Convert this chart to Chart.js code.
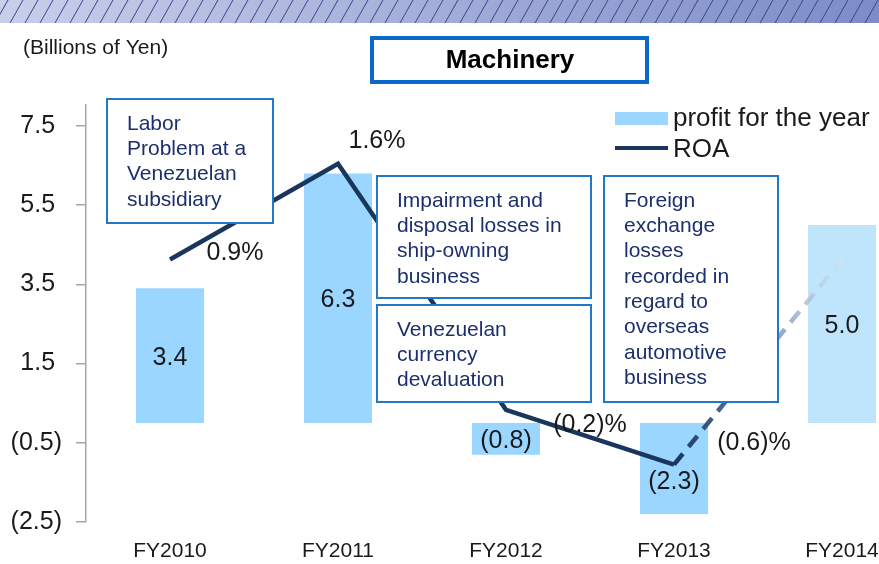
<!DOCTYPE html>
<html>
<head>
<meta charset="utf-8">
<script src="https://cdn.jsdelivr.net/npm/chart.js@4.4.1/dist/chart.umd.min.js"></script>
<style>
  html, body { margin: 0; padding: 0; overflow: hidden; background: #fff; }
</style>
</head>
<body>
<canvas id="machineryChart" width="930" height="564"></canvas>
<script>
// chart values
const years = ["FY2010", "FY2011", "FY2012", "FY2013", "FY2014"];
const profit = [3.4, 6.3, -0.8, -2.3, 5.0];
const profitLabels = ["3.4", "6.3", "(0.8)", "(2.3)", "5.0"];
const roa = [0.9, 1.6, -0.2, -0.6, 0.9];
const roaLabels = ["0.9%", "1.6%", "(0.2)%", "(0.6)%", ""];
const yTicks = [-2.5, -0.5, 1.5, 3.5, 5.5, 7.5];
const notes = [
  ["Labor", "Problem at a", "Venezuelan", "subsidiary"],
  ["Impairment and", "disposal losses in", "ship-owning", "business"],
  ["Venezuelan", "currency", "devaluation"],
  ["Foreign", "exchange", "losses", "recorded in", "regard to", "overseas", "automotive", "business"]
];

const FONT = "'Liberation Sans', Arial, sans-serif";
const NAVY = "#1b365d";
const BAR = "#9ad6ff";
const BAR_LIGHT = "#bfe5fc";

// layout of the note boxes (pixels)
const noteBoxes = [
  { x: 107, y: 99, w: 166, h: 124 },
  { x: 377, y: 176, w: 214, h: 122 },
  { x: 377, y: 305, w: 214, h: 97 },
  { x: 604, y: 176, w: 174, h: 226 }
];
const roaLabelOffsets = [[65, -6], [39, -23], [84, 15], [80, -21]];

Chart.defaults.font.family = FONT;

const fmtTick = (v) => v < 0 ? `(${Math.abs(v).toFixed(1)})` : v.toFixed(1) + " ";

const fadeGradient = (chart, p0, p1) => {
  const g = chart.ctx.createLinearGradient(p0.x, p0.y, p1.x, p1.y);
  g.addColorStop(0, NAVY);
  g.addColorStop(0.45, "#5d7fae");
  g.addColorStop(1, "rgba(214,226,240,0.7)");
  return g;
};

const decorPlugin = {
  id: "decor",
  beforeDraw(chart) {
    const ctx = chart.ctx;
    ctx.save();
    // hatched band at the top
    const band = ctx.createLinearGradient(0, 0, 879, 0);
    band.addColorStop(0, "#c9cee9");
    band.addColorStop(1, "#7d8cc7");
    ctx.fillStyle = band;
    ctx.fillRect(0, 0, chart.width, 23);
    ctx.beginPath();
    ctx.rect(0, 0, chart.width, 23);
    ctx.clip();
    ctx.strokeStyle = "#34478f";
    ctx.lineWidth = 1;
    for (let x = -20; x < chart.width + 20; x += 15) {
      ctx.beginPath();
      ctx.moveTo(x, 23);
      ctx.lineTo(x + 13, 0);
      ctx.stroke();
    }
    ctx.restore();

    ctx.save();
    ctx.fillStyle = "#1a1a1a";
    ctx.font = `21px ${FONT}`;
    ctx.textBaseline = "middle";
    ctx.fillText("(Billions of Yen)", 23, 48);

    // title box
    ctx.strokeStyle = "#0a68c8";
    ctx.lineWidth = 4;
    ctx.strokeRect(372, 38, 275, 44);
    ctx.fillStyle = "#000";
    ctx.font = `bold 26px ${FONT}`;
    ctx.textAlign = "center";
    ctx.fillText("Machinery", 510, 61);
    ctx.restore();
  },
  afterDatasetsDraw(chart) {
    const ctx = chart.ctx;
    ctx.save();

    // note boxes over the line
    noteBoxes.forEach((b, i) => {
      ctx.fillStyle = "#fff";
      ctx.fillRect(b.x, b.y, b.w, b.h);
      ctx.strokeStyle = "#2378c6";
      ctx.lineWidth = 2;
      ctx.strokeRect(b.x, b.y, b.w, b.h);
      ctx.fillStyle = "#1c2f6e";
      ctx.font = `21px ${FONT}`;
      ctx.textBaseline = "middle";
      ctx.textAlign = "left";
      notes[i].forEach((line, j) => {
        ctx.fillText(line, b.x + 20, b.y + 25 + j * 25.3);
      });
    });

    // bar values
    ctx.fillStyle = "#1a1a1a";
    ctx.font = `25px ${FONT}`;
    ctx.textAlign = "center";
    ctx.textBaseline = "middle";
    chart.getDatasetMeta(1).data.forEach((bar, i) => {
      let y = (bar.y + bar.base) / 2 + 2;
      if (i === 3) y += 12;
      ctx.fillText(profitLabels[i], bar.x, y);
    });

    // ROA values
    chart.getDatasetMeta(0).data.forEach((pt, i) => {
      if (!roaLabels[i]) return;
      const [dx, dy] = roaLabelOffsets[i];
      ctx.fillText(roaLabels[i], pt.x + dx, pt.y + dy);
    });

    // legend
    ctx.fillStyle = BAR;
    ctx.fillRect(615, 112, 53, 13);
    ctx.strokeStyle = NAVY;
    ctx.lineWidth = 4;
    ctx.beginPath();
    ctx.moveTo(615, 148);
    ctx.lineTo(668, 148);
    ctx.stroke();
    ctx.fillStyle = "#1a1a1a";
    ctx.font = `26px ${FONT}`;
    ctx.textAlign = "left";
    ctx.fillText(chart.data.datasets[1].label, 673, 119);
    ctx.fillText(chart.data.datasets[0].label, 673, 150);
    ctx.restore();
  }
};

new Chart(document.getElementById("machineryChart"), {
  type: "bar",
  data: {
    labels: years,
    datasets: [
      {
        type: "line",
        label: "ROA",
        data: roa,
        yAxisID: "y1",
        order: 0,
        borderColor: NAVY,
        borderWidth: 4.5,
        borderJoinStyle: "miter",
        pointRadius: 0,
        tension: 0,
        segment: {
          borderColor: (c) => c.p0DataIndex === 3 ? fadeGradient(c.chart, c.p0, c.p1) : undefined,
          borderDash: (c) => c.p0DataIndex === 3 ? [14, 9] : undefined
        }
      },
      {
        label: "profit for the year",
        data: profit,
        yAxisID: "y",
        order: 1,
        backgroundColor: [BAR, BAR, BAR, BAR, BAR_LIGHT],
        categoryPercentage: 1,
        barPercentage: 0.405
      }
    ]
  },
  options: {
    responsive: false,
    animation: false,
    layout: { padding: { top: 105, right: 4, left: 0, bottom: 0 } },
    plugins: {
      legend: { display: false },
      tooltip: { enabled: false }
    },
    scales: {
      x: {
        grid: { display: false },
        border: { display: false },
        ticks: { color: "#1a1a1a", font: { size: 21 }, padding: 9 },
        afterFit: (scale) => { scale.height = 42; }
      },
      y: {
        min: -2.5,
        max: 8.03,
        afterBuildTicks: (scale) => { scale.ticks = yTicks.map((v) => ({ value: v })); },
        grid: { drawOnChartArea: false, drawTicks: true, tickLength: 10, color: "#a6a6a6", lineWidth: 1.5 },
        border: { display: true, color: "#a6a6a6", width: 1.5 },
        ticks: { color: "#1a1a1a", font: { size: 25 }, padding: 14, callback: (v) => fmtTick(v) },
        afterFit: (scale) => { scale.width = 86; }
      },
      y1: {
        display: false,
        min: -1.02,
        max: 2.03
      }
    }
  },
  plugins: [decorPlugin]
});
</script>
</body>
</html>
